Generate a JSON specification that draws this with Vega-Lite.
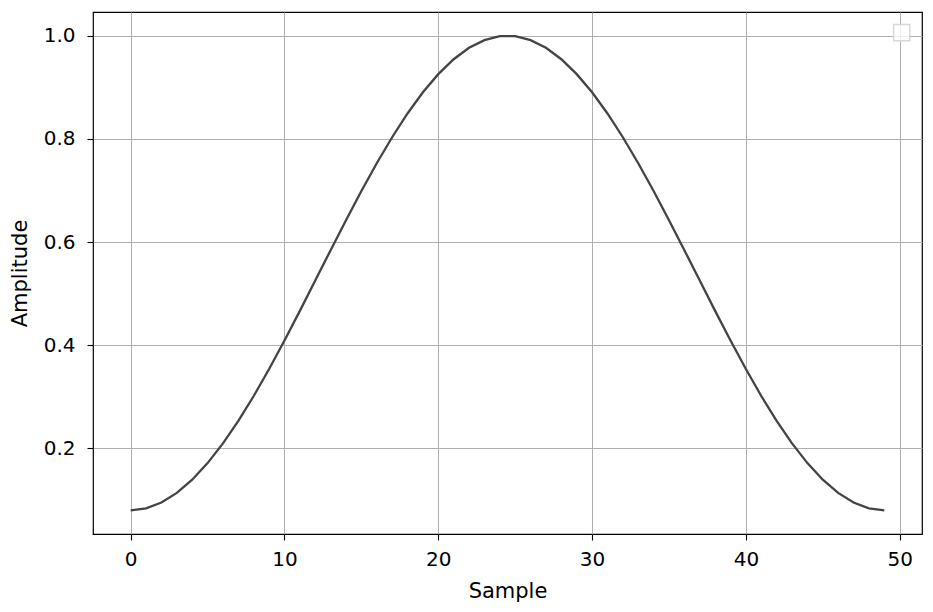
{
  "$schema": "https://vega.github.io/schema/vega-lite/v6.json",
  "width": 829,
  "height": 522,
  "autosize": {"type": "none"},
  "padding": {"left": 93, "top": 12, "right": 11, "bottom": 78},
  "background": "white",
  "datasets": {
    "window": [
      {"n": 0, "w": 0.0800}, {"n": 1, "w": 0.0838}, {"n": 2, "w": 0.0950}, {"n": 3, "w": 0.1136},
      {"n": 4, "w": 0.1392}, {"n": 5, "w": 0.1714}, {"n": 6, "w": 0.2096}, {"n": 7, "w": 0.2532},
      {"n": 8, "w": 0.3015}, {"n": 9, "w": 0.3538}, {"n": 10, "w": 0.4091}, {"n": 11, "w": 0.4666},
      {"n": 12, "w": 0.5253}, {"n": 13, "w": 0.5842}, {"n": 14, "w": 0.6424}, {"n": 15, "w": 0.6989},
      {"n": 16, "w": 0.7528}, {"n": 17, "w": 0.8032}, {"n": 18, "w": 0.8493}, {"n": 19, "w": 0.8903},
      {"n": 20, "w": 0.9255}, {"n": 21, "w": 0.9544}, {"n": 22, "w": 0.9766}, {"n": 23, "w": 0.9915},
      {"n": 24, "w": 0.9991}, {"n": 25, "w": 0.9991}, {"n": 26, "w": 0.9915}, {"n": 27, "w": 0.9766},
      {"n": 28, "w": 0.9544}, {"n": 29, "w": 0.9255}, {"n": 30, "w": 0.8903}, {"n": 31, "w": 0.8493},
      {"n": 32, "w": 0.8032}, {"n": 33, "w": 0.7528}, {"n": 34, "w": 0.6989}, {"n": 35, "w": 0.6424},
      {"n": 36, "w": 0.5842}, {"n": 37, "w": 0.5253}, {"n": 38, "w": 0.4666}, {"n": 39, "w": 0.4091},
      {"n": 40, "w": 0.3538}, {"n": 41, "w": 0.3015}, {"n": 42, "w": 0.2532}, {"n": 43, "w": 0.2096},
      {"n": 44, "w": 0.1714}, {"n": 45, "w": 0.1392}, {"n": 46, "w": 0.1136}, {"n": 47, "w": 0.0950},
      {"n": 48, "w": 0.0838}, {"n": 49, "w": 0.0800}
    ],
    "legendbox": [{"n": 50.13, "w": 1.006}]
  },
  "layer": [
    {
      "data": {"name": "window"},
      "mark": {"type": "line", "color": "#444444", "strokeWidth": 2.3, "clip": true},
      "encoding": {
        "x": {
          "field": "n", "type": "quantitative", "title": "Sample",
          "scale": {"domain": [-2.45, 51.45], "nice": false, "zero": false},
          "axis": {"values": [0, 10, 20, 30, 40, 50], "format": "d"}
        },
        "y": {
          "field": "w", "type": "quantitative", "title": "Amplitude",
          "scale": {"domain": [0.034, 1.046], "nice": false, "zero": false},
          "axis": {"values": [0.2, 0.4, 0.6, 0.8, 1.0], "format": ".1f"}
        }
      }
    },
    {
      "data": {"name": "legendbox"},
      "mark": {"type": "point", "shape": "square", "size": 260, "filled": true, "fill": "white", "fillOpacity": 0.8, "stroke": "#d8d8d8", "strokeWidth": 1.5, "opacity": 1},
      "encoding": {
        "x": {"field": "n", "type": "quantitative"},
        "y": {"field": "w", "type": "quantitative"}
      }
    }
  ],
  "config": {
    "font": "DejaVu Sans",
    "view": {"stroke": "black", "strokeWidth": 1.2},
    "axis": {
      "grid": true,
      "gridColor": "#b0b0b0",
      "gridWidth": 1,
      "domain": false,
      "tickColor": "black",
      "tickSize": 6,
      "tickWidth": 1.1,
      "labelFont": "DejaVu Sans",
      "labelFontSize": 20,
      "labelColor": "black",
      "titleFont": "DejaVu Sans",
      "titleFontSize": 21,
      "titleFontWeight": "normal",
      "titleColor": "black"
    },
    "axisX": {"labelPadding": 9, "titlePadding": 11},
    "axisY": {"labelPadding": 12, "titlePadding": 13}
  }
}
